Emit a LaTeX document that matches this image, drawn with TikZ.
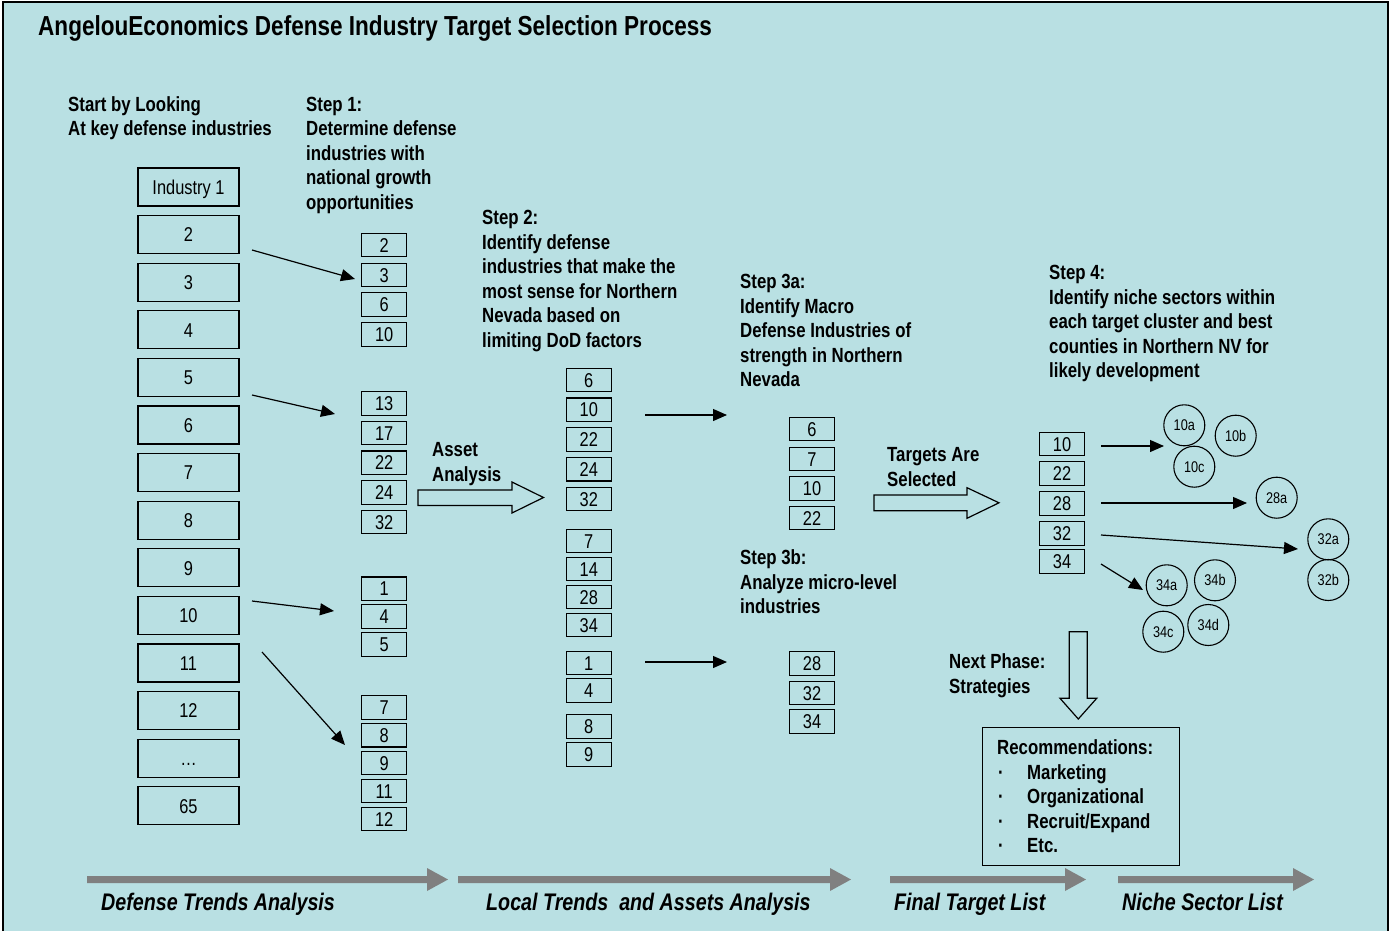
\documentclass[tikz,border=0pt]{standalone}
\usepackage{fontspec}
\setmainfont{Liberation Sans}[FakeStretch=0.82]
\usetikzlibrary{arrows.meta,calc}
\definecolor{bg}{RGB}{185,224,227}
\definecolor{grayarr}{RGB}{128,128,128}
\tikzset{
 lbl/.style={anchor=base west, inner sep=0pt, align=left, font=\fontsize{20.5}{24.6}\selectfont\bfseries},
 bigbox/.style={draw, line width=1.1pt, minimum width=101pt, minimum height=38pt, inner sep=0pt, text height=14.5pt, text depth=0pt, font=\fontsize{20}{24}\selectfont},
 numbox/.style={draw, line width=1.1pt, minimum width=45pt, minimum height=23.5pt, inner sep=0pt, text height=14.5pt, text depth=0pt, font=\fontsize{20}{24}\selectfont},
 circ/.style={draw, circle, line width=1.1pt, minimum size=41pt, inner sep=0pt, text height=11pt, text depth=0pt, font=\fontsize{15.5}{18}\selectfont},
 arr/.style={line width=1.2pt, -{Triangle[length=14pt,width=12pt]}},
 blockarr/.style={draw, line width=1.2pt, line join=miter},
 trend/.style={fill=grayarr},
 trendlbl/.style={anchor=base west, inner sep=0pt, font=\fontsize{24}{28}\selectfont\bfseries\itshape},
}
\begin{document}
\begin{tikzpicture}[x=1pt,y=-1pt]
\useasboundingbox (0,0) rectangle (1393,930);
\fill[white] (0,0) rectangle (1393,930);
\draw[line width=1.5pt, fill=bg] (3,2) rectangle (1388,934);

% title
\node[anchor=base west, inner sep=0pt, font=\fontsize{27.5}{32}\selectfont\bfseries] (title) at (38,35) {AngelouEconomics Defense Industry Target Selection Process};

% text blocks (anchored at the baseline of their last line)
\node[lbl] (tstart) at (68,135.6) {Start by Looking\\At key defense industries};
\node[lbl] (tstep1) at (306,209.4) {Step 1:\\Determine defense\\industries with\\national growth\\opportunities};
\node[lbl] (tstep2) at (482,347.5) {Step 2:\\Identify defense\\industries that make the\\most sense for Northern\\Nevada based on\\limiting DoD factors};
\node[lbl] (tstep3a) at (740,386.9) {Step 3a:\\Identify Macro\\Defense Industries of\\strength in Northern\\Nevada};
\node[lbl] (tstep3b) at (740,613.7) {Step 3b:\\Analyze micro-level\\industries};
\node[lbl] (tstep4) at (1049,377.9) {Step 4:\\Identify niche sectors within\\each target cluster and best\\counties in Northern NV for\\likely development};
\node[lbl] (tasset) at (432,481.1) {Asset\\Analysis};
\node[lbl] (ttarget) at (887,486.1) {Targets Are\\Selected};
\node[lbl] (tnext) at (949,693.1) {Next Phase:\\Strategies};

% left column
\foreach \t [count=\i] in {Industry 1,2,3,4,5,6,7,8,9,10,11,12,…,65}
  \node[bigbox] (b\i) at (188.5,{187+47.6*(\i-1)}) {\t};

% step 1 boxes
\foreach \t/\y [count=\i] in {2/245,3/274.8,6/304.6,10/334.4,13/403.5,17/433,22/462.7,24/492.4,32/522.1,1/588.7,4/616.5,5/644.3,7/707.3,8/735.2,9/763,11/791,12/819}
  \node[numbox] (sa\i) at (384.2,\y) {\t};

% step 2 boxes
\foreach \t/\y [count=\i] in {6/380,10/409.7,22/439.5,24/469.2,32/499,7/541,14/569,28/597,34/625,1/663,4/690.5,8/726.5,9/754.5}
  \node[numbox] (sb\i) at (588.8,\y) {\t};

% step 3 boxes
\foreach \t/\y [count=\i] in {6/429,7/459,10/488.5,22/518,28/663.5,32/693,34/721.5}
  \node[numbox] (sc\i) at (812,\y) {\t};

% step 4 boxes
\foreach \t/\y [count=\i] in {10/444,22/473.5,28/503.3,32/533.3,34/561.3}
  \node[numbox] (sd\i) at (1062,\y) {\t};

% circles
\node[circ] (c10a) at (1184.3,425.3) {10a};
\node[circ] (c10b) at (1235.7,435.7) {10b};
\node[circ] (c10c) at (1194.3,466.7) {10c};
\node[circ] (c28a) at (1276.7,497.7) {28a};
\node[circ] (c32a) at (1328.3,539.3) {32a};
\node[circ] (c32b) at (1328.3,580) {32b};
\node[circ] (c34a) at (1166.7,585.3) {34a};
\node[circ] (c34b) at (1215,580.3) {34b};
\node[circ] (c34c) at (1163.3,631.7) {34c};
\node[circ] (c34d) at (1208.3,625) {34d};

% arrow end points
\coordinate (a1s) at (252,250);   \coordinate (a1e) at (355,279);
\coordinate (a2s) at (252,395);   \coordinate (a2e) at (335,414);
\coordinate (a3s) at (252,601);   \coordinate (a3e) at (334,611);
\coordinate (a4s) at (262,652);   \coordinate (a4e) at (345,745);
\coordinate (a5s) at (645,415);   \coordinate (a5e) at (727,415);
\coordinate (a6s) at (645,662);   \coordinate (a6e) at (727,662);
\coordinate (a7s) at (1101,446);  \coordinate (a7e) at (1164,446);
\coordinate (a8s) at (1101,503);  \coordinate (a8e) at (1247,503);
\coordinate (a9s) at (1101,535);  \coordinate (a9e) at (1298,549);
\coordinate (a10s) at (1101,564); \coordinate (a10e) at (1143,590);
\foreach \k in {1,...,10} \draw[arr] (a\k s) -- (a\k e);

% block arrows
\draw[blockarr] (418,490) -- (512,490) -- (512,482) -- (543.5,497.5) -- (512,513) -- (512,505.5) -- (418,505.5) -- cycle;
\draw[blockarr] (874,495) -- (967,495) -- (967,487.7) -- (999,502.8) -- (967,518.3) -- (967,510.7) -- (874,510.7) -- cycle;
\draw[blockarr] (1069.3,631.7) -- (1087.3,631.7) -- (1087.3,698.3) -- (1096.7,698.3) -- (1078.3,719) -- (1060,698.3) -- (1069.3,698.3) -- cycle;

% recommendations
\node[draw, line width=1.2pt, minimum width=196.6pt, minimum height=138pt, inner sep=0pt] (rec) at (1081,796.7) {};
\node[lbl] (rectext) at (997,852.9) {Recommendations:\\
\makebox[30pt][l]{\hspace{1pt}·}Marketing\\
\makebox[30pt][l]{\hspace{1pt}·}Organizational\\
\makebox[30pt][l]{\hspace{1pt}·}Recruit/Expand\\
\makebox[30pt][l]{\hspace{1pt}·}Etc.};

% trend arrows
\fill[trend] (87,876) -- (427,876) -- (427,868) -- (448,879.5) -- (427,891) -- (427,883) -- (87,883) -- cycle;
\fill[trend] (458,876) -- (830,876) -- (830,868) -- (851,879.5) -- (830,891) -- (830,883) -- (458,883) -- cycle;
\fill[trend] (890,876) -- (1065,876) -- (1065,868) -- (1086,879.5) -- (1065,891) -- (1065,883) -- (890,883) -- cycle;
\fill[trend] (1118,876) -- (1293,876) -- (1293,868) -- (1314,879.5) -- (1293,891) -- (1293,883) -- (1118,883) -- cycle;
\node[trendlbl] (l1) at (101,910) {Defense Trends Analysis};
\node[trendlbl] (l2) at (486,910) {Local Trends~ and Assets Analysis};
\node[trendlbl] (l3) at (894,910) {Final Target List};
\node[trendlbl] (l4) at (1122,910) {Niche Sector List};
\end{tikzpicture}
\end{document}
